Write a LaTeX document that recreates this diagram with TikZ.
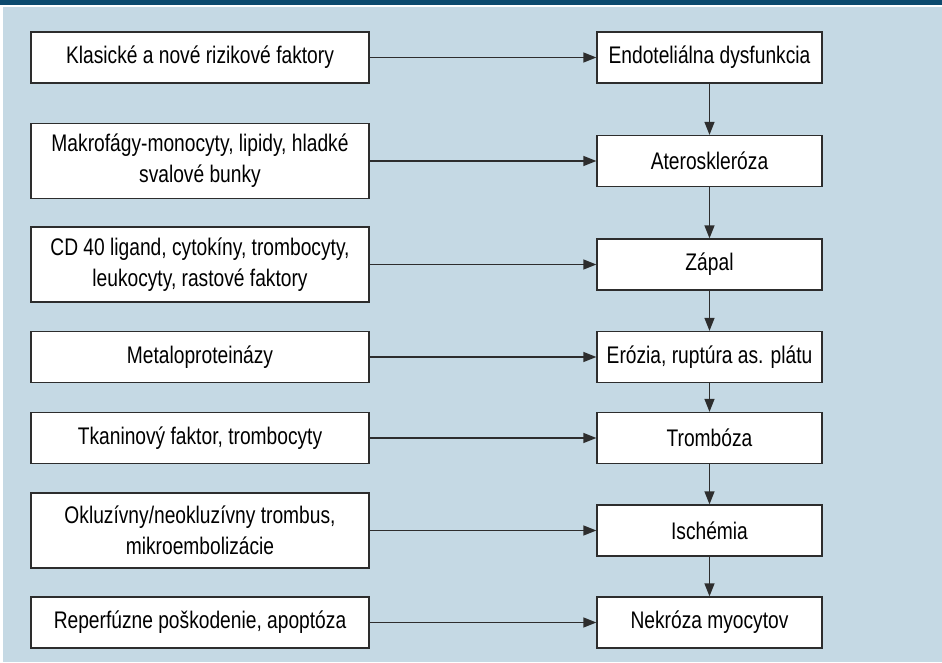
\documentclass[tikz,border=0pt]{standalone}
\usepackage{fontspec}
\setmainfont[FakeStretch=0.8]{Liberation Sans}
\usetikzlibrary{arrows.meta,positioning}
\definecolor{headblue}{RGB}{12,74,110}
\definecolor{panelblue}{RGB}{197,217,228}
\definecolor{boxline}{RGB}{45,45,45}

\tikzset{
  cause/.style={draw=boxline,fill=white,line width=1.3pt,minimum width=338pt,
    minimum height=51pt,inner sep=0pt,align=center,font=\fontsize{24}{31}\selectfont},
  effect/.style={cause,minimum width=225pt},
  tall/.style={minimum height=75pt},
  link/.style={draw=boxline,line width=1.4pt,-{Triangle[length=13pt,width=10pt]}}
}

\begin{document}
\begin{tikzpicture}[x=1pt,y=-1pt]
\useasboundingbox (0,0) rectangle (942,662);
\fill[panelblue] (2.5,7) rectangle (942,662);
\fill[headblue] (0,0) rectangle (942,4.5);

% left column
\node[cause] (c1) at (200,57.5) {Klasické a nové rizikové faktory};
\node[cause,tall] (c2) at (200,161) {Makrofágy-monocyty, lipidy, hladké\\svalové bunky};
\node[cause,tall] (c3) at (200,264.5) {CD 40 ligand, cytokíny, trombocyty,\\leukocyty, rastové faktory};
\node[cause] (c4) at (200,357) {Metaloproteinázy};
\node[cause] (c5) at (200,438) {Tkaninový faktor, trombocyty};
\node[cause,tall] (c6) at (200,530.5) {Okluzívny/neokluzívny trombus,\\mikroembolizácie};
\node[cause] (c7) at (200,622.5) {Reperfúzne poškodenie, apoptóza};

% right column
\node[effect] (e1) at (709.5,57.5) {Endoteliálna dysfunkcia};
\node[effect] (e2) at (709.5,161) {Ateroskleróza};
\node[effect] (e3) at (709.5,264.5) {Zápal};
\node[effect] (e4) at (709.5,357) {Erózia, ruptúra as. plátu};
\node[effect] (e5) at (709.5,438) {Trombóza};
\node[effect] (e6) at (709.5,530.5) {Ischémia};
\node[effect] (e7) at (709.5,622.5) {Nekróza myocytov};

\foreach \i in {1,...,7}
  \draw[link] (c\i) -- (e\i);
\foreach \i/\j in {1/2,2/3,3/4,4/5,5/6,6/7}
  \draw[link] (e\i) -- (e\j);
\end{tikzpicture}
\end{document}
